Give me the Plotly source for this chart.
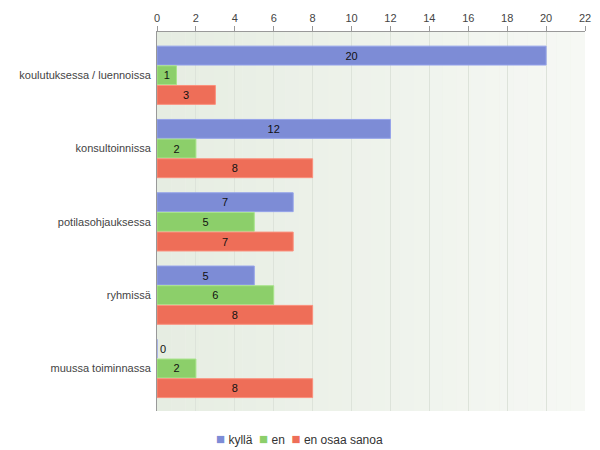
import plotly.graph_objects as go

categories = ["koulutuksessa / luennoissa", "konsultoinnissa", "potilasohjauksessa",
              "ryhmissä", "muussa toiminnassa"]
series_names = ["kyllä", "en", "en osaa sanoa"]
kylla = [20, 12, 7, 5, 0]
en = [1, 2, 5, 6, 2]
en_osaa = [3, 8, 7, 8, 8]
x_ticks = [0, 2, 4, 6, 8, 10, 12, 14, 16, 18, 20, 22]

colors = ["#7d8cd6", "#8ccf6a", "#ee6e58"]
edge = ["#95a3ea", "#a8e48a", "#fb8f7c"]

fig = go.Figure()
for name, vals, c, e in zip(series_names, [kylla, en, en_osaa], colors, edge):
    fig.add_trace(go.Bar(
        y=categories, x=vals, name=name, orientation="h",
        marker=dict(color=c, line=dict(color=e, width=1)),
        text=[str(v) for v in vals],
        textposition=["outside" if v == 0 else "inside" for v in vals],
        insidetextanchor="middle", constraintext="none",
        textfont=dict(color="#111111", size=11, family="Liberation Sans, Arial"),
        cliponaxis=False, showlegend=False,
    ))

# subtle horizontal gradient for plot background
shapes = []
n = 30
c0 = (230, 237, 226)
c1 = (246, 248, 244)
for i in range(n):
    t = i / (n - 1)
    col = tuple(round(a + (b - a) * t) for a, b in zip(c0, c1))
    shapes.append(dict(type="rect", xref="paper", yref="paper",
                       x0=i / n, x1=(i + 1) / n, y0=0, y1=1,
                       fillcolor="rgb(%d,%d,%d)" % col, line=dict(width=0),
                       layer="below"))

# compact legend as rich text annotation
legend_text = "&nbsp;&nbsp;".join(
    "<span style='color:%s;font-size:15px'>■</span> %s" % (c, n_)
    for c, n_ in zip(colors, series_names))

# page body has an 8px default margin, so margins are shifted to compensate
fig.update_layout(
    width=600, height=450,
    margin=dict(l=149, r=23, t=24, b=47),
    paper_bgcolor="white", plot_bgcolor="#eef2ea",
    barmode="group", bargap=0.195, bargroupgap=0.04,
    font=dict(family="Liberation Sans, Arial", size=11, color="#444444"),
    shapes=shapes,
    showlegend=False,
    annotations=[dict(text=legend_text, xref="paper", yref="paper",
                      x=0.334, y=-0.072, xanchor="center", yanchor="middle",
                      showarrow=False, font=dict(size=12, color="#333333"))],
    xaxis=dict(side="top", range=[0, 22], tickvals=x_ticks, automargin=False,
               showgrid=True, gridcolor="#dde3da", gridwidth=1,
               showline=True, linecolor="#999999", linewidth=1, mirror=False,
               ticks="outside", ticklen=5, tickcolor="#999999",
               zeroline=False, tickfont=dict(size=11, color="#444444")),
    yaxis=dict(type="category", range=[4.58, -0.59], automargin=False,
               showgrid=False, showline=True, linecolor="#999999", linewidth=1,
               ticks="", ticklabelstandoff=3,
               tickfont=dict(size=11, color="#444444")),
)

fig.write_html("out.html")
